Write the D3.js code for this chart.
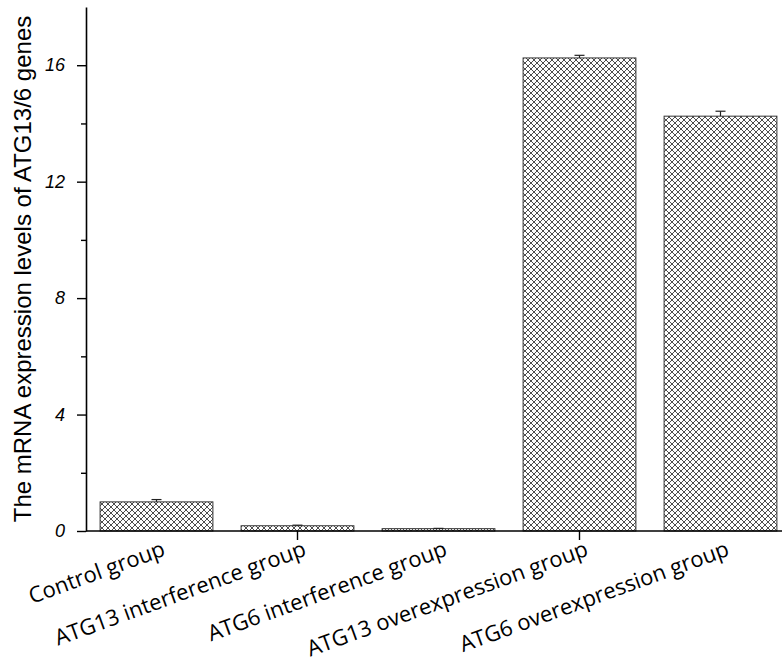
<!DOCTYPE html>
<html>
<head>
<meta charset="utf-8">
<script src="https://cdn.jsdelivr.net/npm/d3@7"></script>
<style>
  body { margin: 0; background: #fff; }
  svg { display: block; }
</style>
</head>
<body>
<div id="chart"></div>
<script>
// Chart data
const groups = [
  'Control group',
  'ATG13 interference group',
  'ATG6 interference group',
  'ATG13 overexpression group',
  'ATG6 overexpression group'
];
const means = [1.0, 0.18, 0.08, 16.25, 14.25];
const errors = [0.08, 0.02, 0.01, 0.09, 0.17];
const yTicks = [0, 4, 8, 12, 16];
const yMinorTicks = [2, 6, 10, 14];
const xTickGroups = ['ATG13 interference group', 'ATG13 overexpression group'];

const width = 782, height = 664;
const margin = { left: 86, bottom: 133, top: 7 };

const svg = d3.select('#chart')
  .append('svg')
    .attr('width', width)
    .attr('height', height);

// crosshatch fill
const defs = svg.append('defs');
const pat = defs.append('pattern')
  .attr('id', 'hatch')
  .attr('patternUnits', 'userSpaceOnUse')
  .attr('width', 6)
  .attr('height', 6);
pat.append('rect').attr('width', 6).attr('height', 6).attr('fill', '#fff');
pat.append('path')
  .attr('d', 'M-1,-1L7,7M-1,7L7,-1M5,-1L7,1M-1,5L1,7M-1,1L1,-1M5,7L7,5')
  .attr('stroke', '#4e4e4e')
  .attr('stroke-width', 1);

const x = d3.scaleBand()
  .domain(groups)
  .range([margin.left, margin.left + 705])
  .paddingInner(0.2)
  .paddingOuter(0.1);

const y = d3.scaleLinear()
  .domain([0, 18])
  .range([height - margin.bottom, margin.top]);

// bars
svg.append('g')
  .selectAll('rect')
  .data(groups)
  .join('rect')
    .attr('x', d => x(d))
    .attr('y', (d, i) => y(means[i]))
    .attr('width', x.bandwidth())
    .attr('height', (d, i) => y(0) - y(means[i]))
    .attr('fill', 'url(#hatch)')
    .attr('stroke', '#333')
    .attr('stroke-width', 1);

// error bars (upper half only)
const eb = svg.append('g').attr('stroke', '#222').attr('stroke-width', 1.2);
groups.forEach((g, i) => {
  const cx = x(g) + x.bandwidth() / 2;
  eb.append('line')
    .attr('x1', cx).attr('x2', cx)
    .attr('y1', y(means[i])).attr('y2', y(means[i] + errors[i]));
  eb.append('line')
    .attr('x1', cx - 5).attr('x2', cx + 5)
    .attr('y1', y(means[i] + errors[i])).attr('y2', y(means[i] + errors[i]));
});

// y axis
const yAxis = svg.append('g')
  .attr('transform', `translate(${margin.left},0)`)
  .call(d3.axisLeft(y).tickValues(yTicks).tickSize(9).tickSizeOuter(0).tickPadding(12));
yAxis.select('.domain').attr('stroke-width', 1.6);
yAxis.selectAll('.tick line').attr('stroke-width', 1.4);
yAxis.selectAll('text')
  .attr('font-family', 'Liberation Sans, Arial, sans-serif')
  .attr('font-style', 'italic')
  .attr('font-size', 18)
  .attr('fill', '#000');

svg.append('g')
  .attr('transform', `translate(${margin.left},0)`)
  .call(d3.axisLeft(y).tickValues(yMinorTicks).tickSize(5).tickFormat(''))
  .call(g => g.select('.domain').remove())
  .selectAll('.tick line').attr('stroke-width', 1.4);

// x axis
const xAxis = svg.append('g')
  .attr('transform', `translate(0,${y(0)})`)
  .call(d3.axisBottom(x).tickValues(xTickGroups).tickSize(9).tickSizeOuter(0).tickFormat(''));
xAxis.select('.domain').attr('d', `M${margin.left},0H${width}`).attr('stroke-width', 1.6);
xAxis.selectAll('.tick line').attr('stroke-width', 1.4);

// category labels
svg.append('g')
  .selectAll('text')
  .data(groups)
  .join('text')
    .attr('transform', d => `translate(${x(d) + x.bandwidth() / 2 + 10},${y(0) + 24}) rotate(-20)`)
    .attr('text-anchor', 'end')
    .attr('font-family', 'Open Sans, sans-serif')
    .attr('font-size', 22)
    .attr('fill', '#000')
    .text(d => d);

// y title
svg.append('text')
  .attr('transform', `translate(31,${(y(0) + y(18)) / 2}) rotate(-90)`)
  .attr('text-anchor', 'middle')
  .attr('font-family', 'Liberation Sans, Arial, sans-serif')
  .attr('font-size', 24)
  .attr('fill', '#000')
  .text('The mRNA expression levels of ATG13/6 genes');
</script>
</body>
</html>
